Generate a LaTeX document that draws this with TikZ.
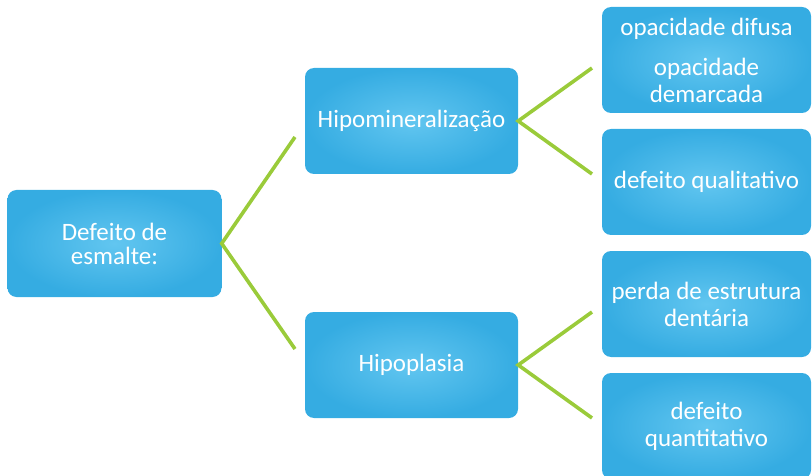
\documentclass[tikz,border=0pt]{standalone}
\usepackage{fontspec}
\setmainfont{Carlito}
\definecolor{boxout}{RGB}{53,172,226}
\definecolor{boxin}{RGB}{98,198,240}
\definecolor{linkgreen}{RGB}{154,203,58}
\begin{document}
\begin{tikzpicture}[x=1pt,y=-1pt,
  box/.style={rectangle, rounded corners=9pt, inner sep=0pt,
    inner color=boxin, outer color=boxout, text=white, align=center,
    font=\fontsize{25}{27}\selectfont},
  mid/.style={box, minimum width=213pt, minimum height=106pt},
  leaf/.style={box, minimum width=209pt, minimum height=106pt},
  link/.style={draw=linkgreen, line width=3.6pt}]
\useasboundingbox (0,0) rectangle (812,476);
\node[box, minimum width=214pt, minimum height=107pt, font=\fontsize{25}{24}\selectfont] (root) at (114.5,243.5) {Defeito de\\esmalte:};
\node[mid] (hipo) at (411.5,121) {Hipomineralização};
\node[mid] (hipl) at (411.5,365) {Hipoplasia};
\node[leaf] (l1) at (706.5,60) {opacidade difusa\\[13pt]opacidade\\demarcada};
\node[leaf] (l2) at (706.5,182) {defeito qualitativo};
\node[leaf] (l3) at (706.5,304) {perda de estrutura\\dentária};
\node[leaf] (l4) at (706.5,426) {defeito\\quantitativo};
\coordinate (r1) at (295,137);
\coordinate (r2) at (295,349);
\coordinate (h1) at (592,68);
\coordinate (h2) at (592,174);
\coordinate (p1) at (592,312);
\coordinate (p2) at (592,418);
\draw[link] (r1) -- (root.east) -- (r2);
\draw[link] (h1) -- (hipo.east) -- (h2);
\draw[link] (p1) -- (hipl.east) -- (p2);
\end{tikzpicture}
\end{document}
